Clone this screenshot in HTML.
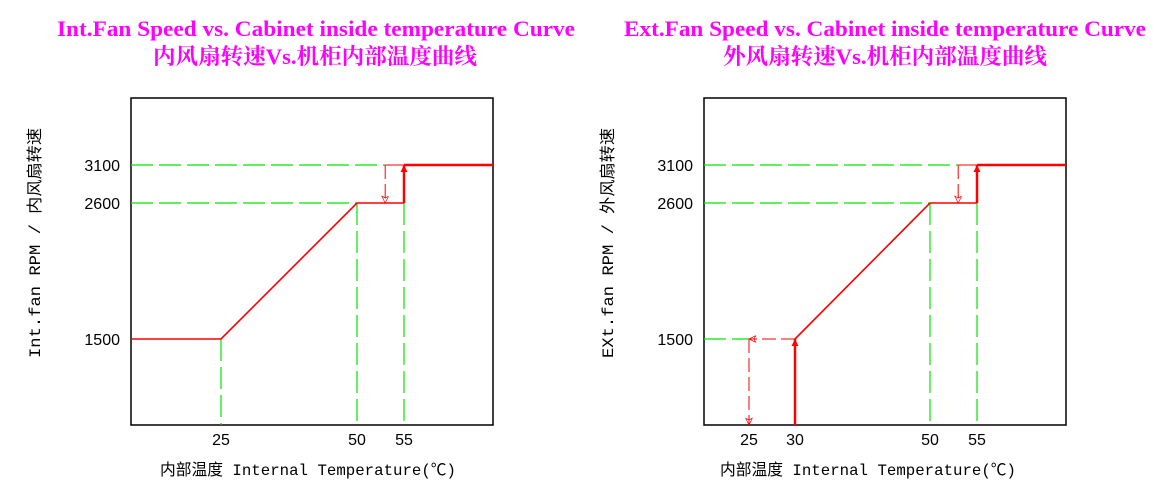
<!DOCTYPE html>
<html><head><meta charset="utf-8"><style>
html,body{margin:0;padding:0;background:#fff;width:1160px;height:484px;overflow:hidden}
svg{display:block}
.t{font-family:"Liberation Serif","Noto Serif CJK SC",serif;font-weight:bold;fill:#ff00ff;font-size:22px}
.tk{font-family:"Liberation Sans","Noto Sans CJK SC",sans-serif;font-size:16px;fill:#000}
.ax{font-family:"Liberation Mono","Noto Sans CJK SC",monospace;font-size:16px;fill:#000}
</style></head><body>
<svg id="chart" width="1160" height="484">
<defs>
<marker id="ah" viewBox="0 0 10 10" refX="10" refY="5" markerWidth="7" markerHeight="12" orient="auto-start-reverse" markerUnits="userSpaceOnUse"><path d="M0,0 L10,5 L0,10 z" fill="#f00"/></marker>
<marker id="ao" viewBox="0 0 10 10" refX="10" refY="5" markerWidth="10" markerHeight="7" orient="auto-start-reverse" markerUnits="userSpaceOnUse"><path d="M0,0 L10,5 L0,10 L3,5 z" fill="none" stroke="#f00" stroke-width="1"/></marker>
</defs>
<text class="t" x="316" y="36" text-anchor="middle" textLength="518" lengthAdjust="spacingAndGlyphs">Int.Fan Speed vs. Cabinet inside temperature Curve</text>
<text class="t" x="315" y="64" text-anchor="middle" textLength="324" lengthAdjust="spacingAndGlyphs">内风扇转速Vs.机柜内部温度曲线</text>
<text class="t" x="885" y="36" text-anchor="middle" textLength="522" lengthAdjust="spacingAndGlyphs">Ext.Fan Speed vs. Cabinet inside temperature Curve</text>
<text class="t" x="885" y="64" text-anchor="middle" textLength="324" lengthAdjust="spacingAndGlyphs">外风扇转速Vs.机柜内部温度曲线</text>
<g id="left"></g>
<g id="right"></g>
</svg>
<script>
// Data
const yTicks = [1500, 2600, 3100];
const leftXTicks = [25, 50, 55];
const rightXTicks = [25, 30, 50, 55];
const leftTemps = [25, 50, 55];
const leftRpm = [1500, 2600, 3100];
const rightTemps = [30, 50, 55];
const rightRpm = [1500, 2600, 3100];
const hystTemp = 53;
const rightLowTemp = 25;

const NS = "http://www.w3.org/2000/svg";
function mk(parent, tag, attrs) {
  const e = document.createElementNS(NS, tag);
  for (const k in attrs) e.setAttribute(k, attrs[k]);
  parent.appendChild(e); return e;
}
function piece(dom, rng) {
  return v => {
    if (v <= dom[0]) return rng[0] + (v - dom[0]) * (rng[1] - rng[0]) / (dom[1] - dom[0]);
    for (let i = 1; i < dom.length; i++) if (v <= dom[i] || i === dom.length - 1)
      return rng[i-1] + (v - dom[i-1]) * (rng[i] - rng[i-1]) / (dom[i] - dom[i-1]);
  };
}
const G = "#00e600", R = "#ff0000";
function draw(g, box, xs, temps, rpm, xTicks, ext, ylab, xtStart) {
  const y = piece([1500, 2600, 3100], [339, 203, 165]);
  const x = xs;
  const [L, T, Rr, B] = box;
  const border = mk(g, "rect", {x: L, y: T, width: Rr - L, height: B - T, fill: "none", stroke: "#000", "stroke-width": 1.5});
  
  
  yTicks.forEach(v => {
    const t = mk(g, "text", {class: "tk", x: L - 11, y: y(v) + 6, "text-anchor": "end"});
    t.textContent = v;
    
    
  });
  xTicks.forEach(v => {
    const t = mk(g, "text", {class: "tk", x: x(v), y: B + 20, "text-anchor": "middle"});
    t.textContent = v;
    
    
  });
  const xl = mk(g, "text", {class: "ax", x: xtStart, y: B + 50, textLength: 296, lengthAdjust: "spacingAndGlyphs"});
  xl.textContent = "内部温度 Internal Temperature(℃)";
  
  
  const yl = mk(g, "text", {class: "ax", transform: `translate(${L - 91},358) rotate(-90)`, textLength: 230, lengthAdjust: "spacingAndGlyphs"});
  yl.textContent = ylab;
  
  
  const dash = {stroke: G, "stroke-width": 1.2, "stroke-dasharray": "22,6", fill: "none"};
  const guides = [
    [L, y(rpm[2]), x(hystTemp), y(rpm[2])],
    [L, y(rpm[1]), x(temps[1]), y(rpm[1])],
    [x(temps[1]), y(rpm[1]), x(temps[1]), B],
    [x(temps[2]), y(rpm[1]), x(temps[2]), B]
  ];
  if (!ext) guides.push([x(temps[0]), y(rpm[0]), x(temps[0]), B]);
  else guides.push([L, y(rpm[0]), x(rightLowTemp), y(rpm[0])]);
  guides.forEach(d => {
    const l = mk(g, "line", Object.assign({x1: d[0], y1: d[1], x2: d[2], y2: d[3]}, dash));
    
    
  });
  let pts = [];
  if (!ext) pts.push([L, y(rpm[0])]);
  pts.push([x(temps[0]), y(rpm[0])], [x(temps[1]), y(rpm[1])], [x(temps[2]), y(rpm[1])]);
  const c = mk(g, "polyline", {points: pts.map(p => p.join(",")).join(" "), fill: "none", stroke: R, "stroke-width": 1.6});
  
  
  const top = mk(g, "line", {x1: x(temps[2]), y1: y(rpm[2]), x2: Rr, y2: y(rpm[2]), stroke: R, "stroke-width": 2.5});
  
  
  const h = mk(g, "line", {x1: x(hystTemp), y1: y(rpm[2]), x2: x(temps[2]), y2: y(rpm[2]), stroke: R, "stroke-width": 1});
  
  
  const up = mk(g, "line", {x1: x(temps[2]), y1: y(rpm[1]), x2: x(temps[2]), y2: y(rpm[2]), stroke: R, "stroke-width": 2.5, "marker-end": "url(#ah)"});
  
  
  const dn = mk(g, "line", {x1: x(hystTemp), y1: y(rpm[2]), x2: x(hystTemp), y2: y(rpm[1]), stroke: R, "stroke-width": 1, "stroke-dasharray": "14,5", "marker-end": "url(#ao)"});
  
  
  if (ext) {
    const su = mk(g, "line", {x1: x(temps[0]), y1: B, x2: x(temps[0]), y2: y(rpm[0]), stroke: R, "stroke-width": 2.5, "marker-end": "url(#ah)"});
    
    
    const lf = mk(g, "line", {x1: x(temps[0]), y1: y(rpm[0]), x2: x(rightLowTemp), y2: y(rpm[0]), stroke: R, "stroke-width": 1, "stroke-dasharray": "14,5", "marker-end": "url(#ao)"});
    
    
    const sd = mk(g, "line", {x1: x(rightLowTemp), y1: y(rpm[0]), x2: x(rightLowTemp), y2: B, stroke: R, "stroke-width": 1, "stroke-dasharray": "14,5", "marker-end": "url(#ao)"});
    
    
  }
}
draw(document.getElementById("left"), [131, 98, 493, 425],
  piece([25, 50, 55], [221, 357, 404]), leftTemps, leftRpm, leftXTicks, false, "Int.fan RPM / 内风扇转速", 160);
draw(document.getElementById("right"), [704, 98, 1066, 425],
  piece([25, 30, 50, 55], [749, 795, 930, 977]), rightTemps, rightRpm, rightXTicks, true, "EXt.fan RPM / 外风扇转速", 720);
</script>
</body></html>
